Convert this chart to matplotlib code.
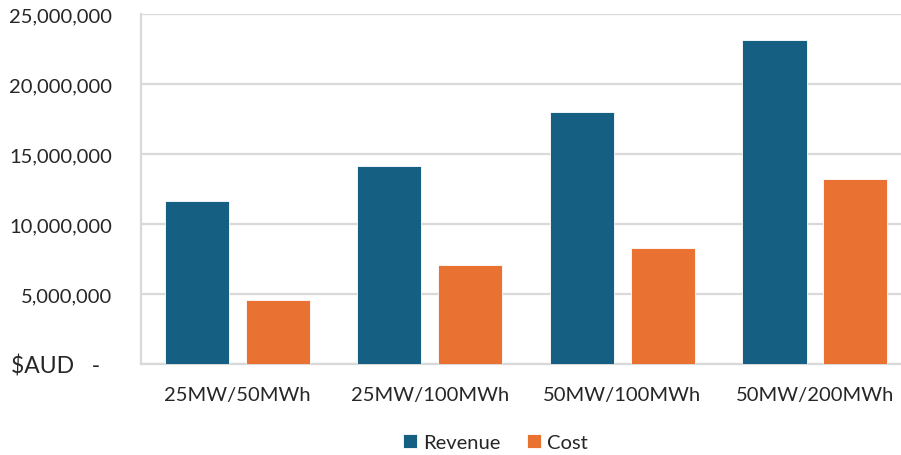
import matplotlib
matplotlib.use("Agg")
import matplotlib.pyplot as plt
import numpy as np
from matplotlib.ticker import FixedLocator, FixedFormatter

# === DATA ===
configs = ["25MW/50MWh", "25MW/100MWh", "50MW/100MWh", "50MW/200MWh"]
revenue = [11_620_000, 14_120_000, 17_980_000, 23_160_000]
cost = [4_590_000, 7_070_000, 8_310_000, 13_240_000]
y_ticks = [0, 5_000_000, 10_000_000, 15_000_000, 20_000_000, 25_000_000]
y_labels = ["$AUD   -  ", "5,000,000", "10,000,000", "15,000,000", "20,000,000", "25,000,000"]

REV_COLOR = "#156082"
COST_COLOR = "#E97132"
GRID_COLOR = "#D9D9D9"
TEXT_COLOR = "#262626"

plt.rcParams["font.family"] = ["Lato", "DejaVu Sans"]

fig = plt.figure(figsize=(9.01, 4.56), dpi=100)
ax = fig.add_axes([0.1565, 0.1996, 0.8435, 0.7675])

x = np.arange(len(configs))
width = 0.333
offset = 0.21
ax.bar(x - offset, revenue, width, color=REV_COLOR, edgecolor="white", linewidth=0.6,
       label="Revenue", zorder=3)
ax.bar(x + offset, cost, width, color=COST_COLOR, edgecolor="white", linewidth=0.6,
       label="Cost", zorder=3)

ax.set_xlim(-0.5, 3.447)
ax.set_ylim(0, 25_000_000)

ax.yaxis.set_major_locator(FixedLocator(y_ticks))
ax.yaxis.set_major_formatter(FixedFormatter(y_labels))
ax.set_xticks(x)
ax.set_xticklabels(configs)

ax.tick_params(axis="y", length=0, pad=21, labelsize=14.5, labelcolor=TEXT_COLOR)
ax.tick_params(axis="x", length=0, pad=16, labelsize=14.5, labelcolor=TEXT_COLOR)
# the currency label on the zero line is a little larger than the numbers
ax.get_yticklabels()[0].set_fontsize(16.5)

ax.grid(axis="y", color=GRID_COLOR, linewidth=1.6, zorder=0)
for side in ["top", "right"]:
    ax.spines[side].set_visible(False)
for side in ["left", "bottom"]:
    ax.spines[side].set_color(GRID_COLOR)
    ax.spines[side].set_linewidth(1.6)

fig.legend(loc="center", bbox_to_anchor=(0.55, 0.028), ncol=2, frameon=False,
           fontsize=14.5, handlelength=0.7, handleheight=0.7, handletextpad=0.3,
           columnspacing=1.3, labelcolor=TEXT_COLOR)

fig.savefig("out.png", dpi=100)
